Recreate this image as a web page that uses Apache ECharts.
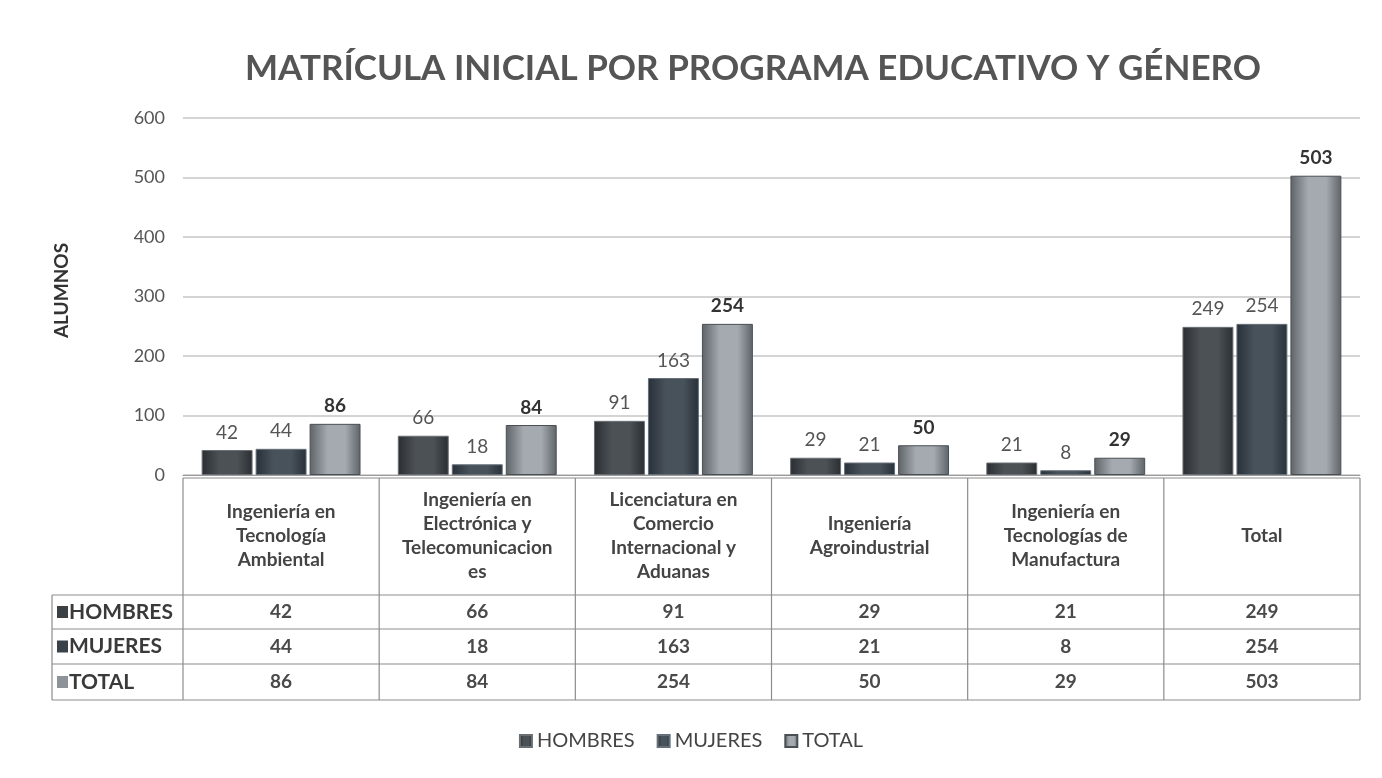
<!DOCTYPE html>
<html>
<head>
<meta charset="utf-8">
<script src="https://cdn.jsdelivr.net/npm/echarts@6/dist/echarts.min.js"></script>
<style>
  html, body { margin: 0; padding: 0; background: #fff; }
  #chart { width: 1382px; height: 778px; }
</style>
</head>
<body>
<div id="chart"></div>
<script>
const categories = [
  'Ingeniería en\nTecnología\nAmbiental',
  'Ingeniería en\nElectrónica y\nTelecomunicacion\nes',
  'Licenciatura en\nComercio\nInternacional y\nAduanas',
  'Ingeniería\nAgroindustrial',
  'Ingeniería en\nTecnologías de\nManufactura',
  'Total'
]
const seriesNames = ['HOMBRES', 'MUJERES', 'TOTAL']
const hombres = [42, 66, 91, 29, 21, 249]
const mujeres = [44, 18, 163, 21, 8, 254]
const total = [86, 84, 254, 50, 29, 503]
const yMin = 0
const yMax = 600
const yStep = 100

const font = 'Lato, "Open Sans", sans-serif'
const colors = ['#3b4045', '#38424b', '#8d9398']

// table layout (pixels)
const axisY = 475
const rowLines = [595, 629, 664, 700]
const tableLeft = 52
const tableTop = 478

const barFill = (dark, mid) => ({
  type: 'linear', x: 0, y: 0, x2: 1, y2: 0,
  colorStops: [
    { offset: 0, color: dark },
    { offset: 0.35, color: mid },
    { offset: 0.7, color: mid },
    { offset: 1, color: dark },
  ],
})

const rowAxis = (values, center) => ({
  type: 'category',
  data: categories,
  position: 'bottom',
  offset: center - axisY,
  axisLine: { show: false },
  axisTick: { show: false },
  axisLabel: {
    margin: 0,
    verticalAlign: 'middle',
    fontFamily: font,
    fontSize: 19,
    fontWeight: 'bold',
    color: '#4a4a4a',
    formatter: (v, i) => String(values[i]),
  },
})

const labelStyle = (bold) => ({
  show: true,
  position: 'top',
  distance: 8,
  fontFamily: font,
  fontSize: 19,
  fontWeight: bold ? 'bold' : 'normal',
  color: bold ? '#333' : '#555',
})

const option = {
  backgroundColor: '#fff',
  title: {
    text: 'MATRÍCULA INICIAL POR PROGRAMA EDUCATIVO Y GÉNERO',
    left: 240,
    top: 46,
    textStyle: { fontFamily: font, fontSize: 35, fontWeight: 'bold', color: '#555' },
  },
  legend: {
    bottom: 22,
    left: 'center',
    icon: 'rect',
    itemWidth: 12,
    itemHeight: 12,
    itemGap: 22,
    data: seriesNames,
    textStyle: { fontFamily: font, fontSize: 20, color: '#444' },
  },
  grid: { left: 183, right: 22, top: 118, height: axisY - 118 },
  xAxis: [
    {
      type: 'category',
      data: categories,
      axisLine: { lineStyle: { color: '#9a9a9a' } },
      axisTick: { show: false },
      axisLabel: {
        margin: 61,
        verticalAlign: 'middle',
        lineHeight: 24,
        fontFamily: font,
        fontSize: 19,
        fontWeight: 'bold',
        color: '#444',
        interval: 0,
      },
    },
    rowAxis(hombres, (rowLines[0] + rowLines[1]) / 2),
    rowAxis(mujeres, (rowLines[1] + rowLines[2]) / 2),
    rowAxis(total, (rowLines[2] + rowLines[3]) / 2),
  ],
  yAxis: {
    type: 'value',
    min: yMin,
    max: yMax,
    interval: yStep,
    name: 'ALUMNOS',
    nameLocation: 'middle',
    nameRotate: 90,
    nameGap: 112,
    nameTextStyle: { fontFamily: font, fontSize: 19, fontWeight: 'bold', color: '#333', padding: [0, 0, 0, 12] },
    axisLine: { show: false },
    axisTick: { show: false },
    axisLabel: { margin: 18, fontFamily: font, fontSize: 18, color: '#555' },
    splitLine: { lineStyle: { color: '#c6c6c6', width: 1.5 } },
  },
  series: [
    {
      name: seriesNames[0],
      type: 'bar',
      data: hombres,
      barGap: '6%',
      barCategoryGap: '19%',
      itemStyle: { color: barFill('#2a2e32', '#4c5156'), borderColor: '#6a6f73', borderWidth: 1 },
      label: labelStyle(false),
    },
    {
      name: seriesNames[1],
      type: 'bar',
      data: mujeres,
      itemStyle: { color: barFill('#283038', '#48525b'), borderColor: '#66707a', borderWidth: 1 },
      label: labelStyle(false),
    },
    {
      name: seriesNames[2],
      type: 'bar',
      data: total,
      itemStyle: { color: barFill('#5e6368', '#a4aaaf'), borderColor: '#4a4f54', borderWidth: 1 },
      label: labelStyle(true),
    },
  ],
}

const chart = echarts.init(document.getElementById('chart'))
chart.setOption(option)

// table borders + row headers, placed from the category axis
const c0 = chart.convertToPixel({ xAxisIndex: 0 }, 0)
const c1 = chart.convertToPixel({ xAxisIndex: 0 }, 1)
const colW = c1 - c0
const edges = categories.map((c, i) => c0 - colW / 2 + i * colW)
edges.push(c0 - colW / 2 + categories.length * colW)
const right = edges[edges.length - 1]
const stroke = { stroke: '#8c8c8c', lineWidth: 1.2 }

const graphic = []
graphic.push({ type: 'line', shape: { x1: edges[0], y1: tableTop, x2: right, y2: tableTop }, style: stroke })
rowLines.forEach((y) => {
  graphic.push({ type: 'line', shape: { x1: tableLeft, y1: y, x2: right, y2: y }, style: stroke })
})
edges.forEach((x) => {
  graphic.push({ type: 'line', shape: { x1: x, y1: tableTop, x2: x, y2: rowLines[3] }, style: stroke })
})
graphic.push({ type: 'line', shape: { x1: tableLeft, y1: rowLines[0], x2: tableLeft, y2: rowLines[3] }, style: stroke })
seriesNames.forEach((name, i) => {
  const cy = (rowLines[i] + rowLines[i + 1]) / 2
  graphic.push({ type: 'rect', shape: { x: 57, y: cy - 6, width: 11, height: 12 }, style: { fill: colors[i] } })
  graphic.push({
    type: 'text', x: 69, y: cy,
    style: { text: name, fontFamily: font, fontSize: 21, fontWeight: 'bold', fill: '#3a3a3a', verticalAlign: 'middle' },
  })
})
chart.setOption({ graphic })
</script>
</body>
</html>
